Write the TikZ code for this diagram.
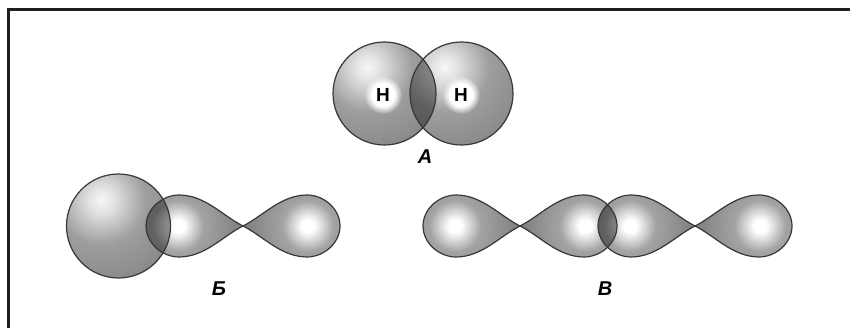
\documentclass[tikz,border=0pt]{standalone}
\usepackage{fontspec}
\usepackage{tikz}
\usetikzlibrary{fadings}
\newfontfamily\lblfont{Liberation Sans}

% grey body with a soft light spot, for the s orbitals
\pgfdeclareradialshading{sphereglow}{\pgfpointorigin}{%
  color(0bp)=(black!3); color(4bp)=(black!12); color(13bp)=(black!38);
  color(30bp)=(black!50); color(50bp)=(black!60)}
% same idea for a p lobe, brighter spot, darker towards the node
\pgfdeclareradialshading{lobeglow}{\pgfpointorigin}{%
  color(0bp)=(white); color(2bp)=(white); color(8bp)=(black!36);
  color(18bp)=(black!48); color(50bp)=(black!64)}
% white halo behind the H
\pgfdeclareradialshading{hglowshade}{\pgfpointorigin}{%
  color(0bp)=(pgftransparent!0); color(15bp)=(pgftransparent!0);
  color(25bp)=(pgftransparent!100); color(50bp)=(pgftransparent!100)}
\pgfdeclarefading{hglow}{\pgfuseshading{hglowshade}}

% one lobe of a p orbital, node at the origin, round end on +x
\def\lobepath{(0,0) .. controls (20,10) and (38,31) .. (64,31)
  .. controls (81,31) and (97,17) .. (97,0)
  .. controls (97,-17) and (81,-31) .. (64,-31)
  .. controls (38,-31) and (20,-10) .. (0,0) -- cycle}

\tikzset{
  outline/.style={draw=black!78, line width=1.2pt},
  overlap/.style={fill=black, fill opacity=0.4},
  letter/.style={font=\lblfont\bfseries\itshape\fontsize{20}{20}\selectfont, inner sep=0pt},
  atom/.style={font=\lblfont\bfseries\fontsize{19}{19}\selectfont, inner sep=0pt},
}

\begin{document}
\begin{tikzpicture}[x=1pt,y=1pt]
	\useasboundingbox (0,0) rectangle (850,328);
	\draw[line width=3pt, draw=black!88, line join=miter] (8.5,0) -- (8.5,318.5) -- (850,318.5);

	% s orbitals
	\foreach \cx/\cy/\r in {384.5/234.5/51.5, 461.5/234.5/51.5, 118.5/102/52} {
		\begin{scope}
			\clip (\cx,\cy) circle (\r);
			\shade[shading=sphereglow] (\cx-17,\cy+26) circle (85);
		\end{scope}
	};
	\foreach \cx in {383,461}
		\fill[white, path fading=hglow] (\cx,233) circle (19);

	% p orbitals, two lobes each
	\foreach \px/\dir in {243/-1,243/1,520/-1,520/1,695/-1,695/1} {
		\begin{scope}[shift={(\px,102)}, xscale=\dir]
			\clip \lobepath;
			\shade[shading=lobeglow] (65,0) circle (80);
		\end{scope}
	};

	% overlapping parts
	\begin{scope}
		\clip (384.5,234.5) circle (51.5);
		\fill[overlap] (461.5,234.5) circle (51.5);
	\end{scope}
	\begin{scope}
		\clip (118.5,102) circle (52);
		\fill[overlap, shift={(243,102)}, xscale=-1] \lobepath;
	\end{scope}
	\begin{scope}
		\clip[shift={(520,102)}] \lobepath;
		\fill[overlap, shift={(695,102)}, xscale=-1] \lobepath;
	\end{scope}

	\draw[outline] (384.5,234.5) circle (51.5) (461.5,234.5) circle (51.5) (118.5,102) circle (52);
	\foreach \px/\dir in {243/-1,243/1,520/-1,520/1,695/-1,695/1}
		\draw[outline, shift={(\px,102)}, xscale=\dir] \lobepath;

	\node[atom] (h1) at (383,233) {H};
	\node[atom] (h2) at (461,233) {H};
	\node[letter] (capA) at (425,171) {А};
	\node[letter] (capB) at (219,39) {Б};
	\node[letter] (capV) at (605,39) {В};
\end{tikzpicture}
\end{document}
